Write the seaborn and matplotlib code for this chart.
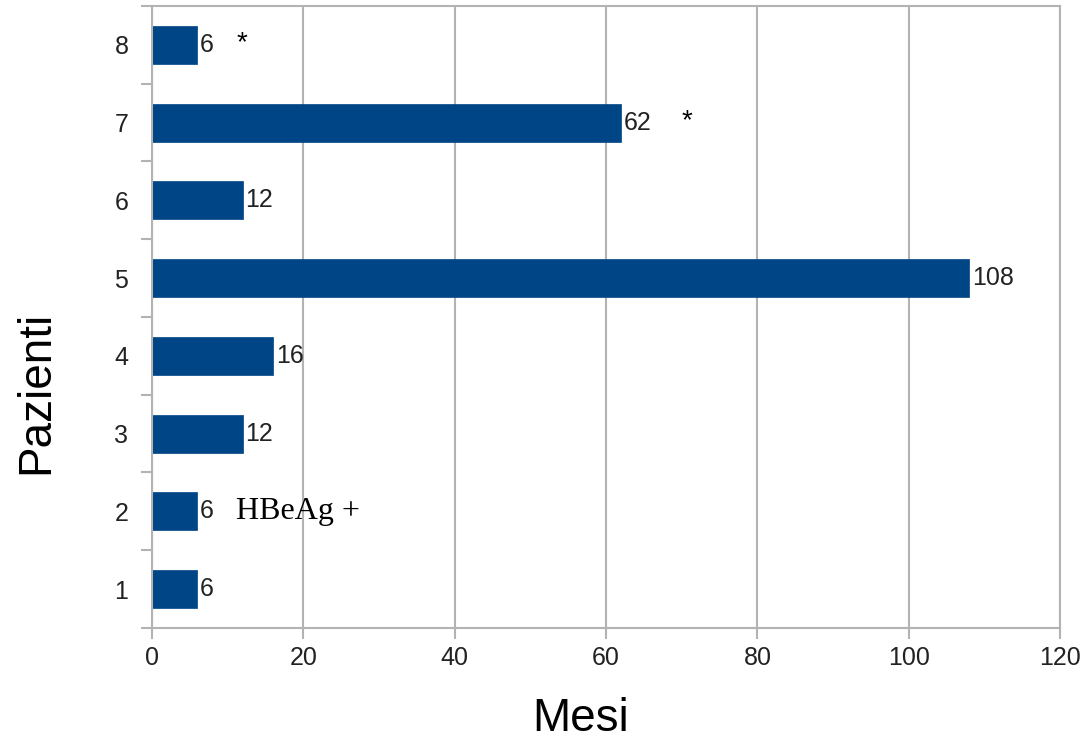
import pandas as pd
import matplotlib.pyplot as plt
import seaborn as sns
from matplotlib.ticker import FixedLocator

# data
pazienti = ["1", "2", "3", "4", "5", "6", "7", "8"]
mesi = [6, 6, 12, 16, 108, 12, 62, 6]
note = {"2": "HBeAg +", "7": "*", "8": "*"}

df = pd.DataFrame({"Pazienti": pazienti, "Mesi": mesi})
order = pazienti[::-1]  # 8 at top

sns.set_style("white")
plt.rcParams["font.family"] = ["Liberation Sans", "DejaVu Sans"]

fig = plt.figure(figsize=(10.85, 7.41), dpi=100)
ax = fig.add_axes([0.1401, 0.1525, 0.8370, 0.8395])

sns.barplot(data=df, x="Mesi", y="Pazienti", order=order, orient="h",
            color="#004586", saturation=1, width=0.49, ax=ax,
            edgecolor="#004586", linewidth=0.5)

ax.set_xlim(0, 120)
ax.set_ylim(len(order) - 0.5, -0.5)
ax.set_xticks(range(0, 121, 20))
ax.grid(axis="x", color="#b3b3b3", linewidth=1.5)
ax.set_axisbelow(True)
for s in ax.spines.values():
    s.set_color("#b3b3b3")
    s.set_linewidth(1.5)
    s.set_visible(True)

# category boundary ticks on y, centred labels without marks
ax.yaxis.set_minor_locator(FixedLocator([i - 0.5 for i in range(len(order) + 1)]))
ax.tick_params(axis="y", which="major", length=0, pad=17, labelsize=18, colors="#222222")
ax.tick_params(axis="y", which="minor", length=8, width=1.5, color="#b3b3b3", left=True)
ax.tick_params(axis="x", which="major", length=8, width=1.5, color="#b3b3b3",
               bottom=True, labelsize=18, labelcolor="#222222", pad=5)

# value labels
for i, p in enumerate(order):
    v = df.loc[df["Pazienti"] == p, "Mesi"].iloc[0]
    ax.annotate(str(v), xy=(v, i), xytext=(2, 0), textcoords="offset points",
                va="center", ha="left", fontsize=18, color="#222222")
    if p in note:
        txt = note[p]
        nd = len(str(v))
        if txt == "*":
            ax.annotate(txt, xy=(v, i), xytext=(17 + 15 * nd, 1), textcoords="offset points",
                        va="center", ha="center", fontsize=20, color="black")
        else:
            ax.annotate(txt, xy=(v, i), xytext=(28, 0), textcoords="offset points",
                        va="center", ha="left", fontsize=23,
                        family=["Liberation Serif", "DejaVu Serif"], color="black")

ax.set_xlabel("Mesi", fontsize=33, color="black", va="center")
ax.set_ylabel("Pazienti", fontsize=33, color="black", va="center")
ax.xaxis.set_label_coords(0.4725, -0.146)
ax.yaxis.set_label_coords(-0.1278, 0.3794)

fig.savefig("out.png", dpi=100)
